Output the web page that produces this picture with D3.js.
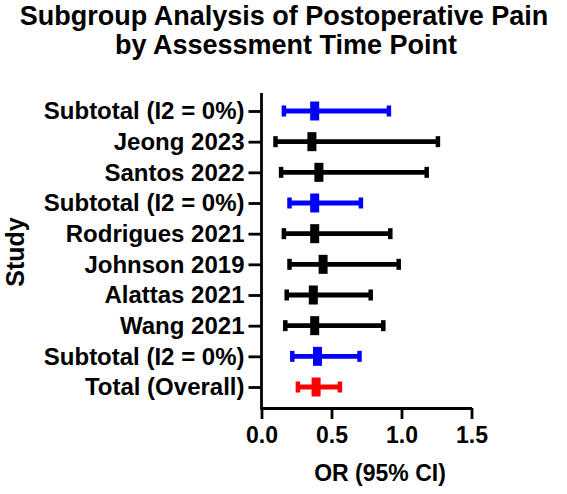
<!DOCTYPE html>
<html>
<head>
<meta charset="utf-8">
<script src="https://cdn.jsdelivr.net/npm/d3@7"></script>
<style>
  body { margin: 0; background: #fff; }
  text { font-family: "Liberation Sans", Arial, sans-serif; font-weight: bold; fill: #000; }
</style>
</head>
<body>
<svg></svg>
<script>
const width = 567;
const height = 494;

// rows top to bottom
var studies = ["Subtotal (I2 = 0%)", "Jeong 2023", "Santos 2022", "Subtotal (I2 = 0%)",
  "Rodrigues 2021", "Johnson 2019", "Alattas 2021", "Wang 2021",
  "Subtotal (I2 = 0%)", "Total (Overall)"];
var orValues = [0.38, 0.36, 0.41, 0.38, 0.38, 0.44, 0.37, 0.38, 0.40, 0.39];
var lowerCI  = [0.16, 0.10, 0.14, 0.20, 0.16, 0.20, 0.18, 0.17, 0.22, 0.26];
var upperCI  = [0.91, 1.26, 1.18, 0.71, 0.92, 0.98, 0.78, 0.87, 0.70, 0.56];
var rowType  = ["subtotal", "study", "study", "subtotal", "study", "study", "study", "study", "subtotal", "total"];
var xTicks = [0, 0.5, 1.0, 1.5];

var colors = {study: "#000000", subtotal: "#0000ff", total: "#ff0000"};

var svg = d3.select("svg").attr("width", width).attr("height", height);

var xScale = d3.scaleLinear().domain([0, 1.5]).range([261.5, 471.5]);
var yScale = d3.scalePoint().domain(d3.range(studies.length)).range([111, 387]);
var axisY = 408;

// title
svg.append("text").attr("x", 284).attr("y", 25).attr("text-anchor", "middle")
  .style("font-size", "27px").text("Subgroup Analysis of Postoperative Pain");
svg.append("text").attr("x", 286).attr("y", 54).attr("text-anchor", "middle")
  .style("font-size", "27px").text("by Assessment Time Point");

// x axis
var xAxis = svg.append("g")
  .attr("transform", `translate(0,${axisY})`)
  .call(d3.axisBottom(xScale).tickValues(xTicks).tickFormat(d3.format(".1f"))
    .tickSize(11).tickSizeOuter(0).tickPadding(8));
xAxis.selectAll("line, path").attr("stroke", "#000").attr("stroke-width", 2.8);
xAxis.selectAll("text").style("font-size", "23px").attr("fill", "#000");

// y axis
var yAxis = svg.append("g")
  .attr("transform", `translate(${xScale(0)},0)`)
  .call(d3.axisLeft(yScale).tickFormat(i => studies[i]).tickSize(13).tickPadding(4));
yAxis.select(".domain").remove();
yAxis.selectAll("line").attr("stroke", "#000").attr("stroke-width", 2.8);
yAxis.selectAll("text").style("font-size", "24px").attr("fill", "#000");
svg.append("line")
  .attr("x1", xScale(0)).attr("x2", xScale(0))
  .attr("y1", 93).attr("y2", axisY + 1.4)
  .attr("stroke", "#000").attr("stroke-width", 2.8);

// axis titles
svg.append("text").attr("x", 380).attr("y", 481).attr("text-anchor", "middle")
  .style("font-size", "23px").text("OR (95% CI)");
svg.append("text")
  .attr("transform", "translate(24,252) rotate(-90)")
  .attr("text-anchor", "middle")
  .style("font-size", "25px").text("Study");

// error bars
var rows = svg.selectAll("g.row")
  .data(d3.range(studies.length))
  .enter()
  .append("g")
  .attr("class", "row");

rows.append("line")
  .attr("x1", i => xScale(lowerCI[i]))
  .attr("x2", i => xScale(upperCI[i]))
  .attr("y1", i => yScale(i))
  .attr("y2", i => yScale(i))
  .attr("stroke", i => colors[rowType[i]])
  .attr("stroke-width", 4.8);

// caps
rows.selectAll("line.cap")
  .data(i => [{i: i, v: lowerCI[i]}, {i: i, v: upperCI[i]}])
  .enter()
  .append("line")
  .attr("class", "cap")
  .attr("x1", d => xScale(d.v))
  .attr("x2", d => xScale(d.v))
  .attr("y1", d => yScale(d.i) - 5.5)
  .attr("y2", d => yScale(d.i) + 5.5)
  .attr("stroke", d => colors[rowType[d.i]])
  .attr("stroke-width", 4.5);

// point estimate
rows.append("rect")
  .attr("x", i => xScale(orValues[i]) - 4.5)
  .attr("y", i => yScale(i) - 9.5)
  .attr("width", 9)
  .attr("height", 19)
  .attr("fill", i => colors[rowType[i]]);
</script>
</body>
</html>
